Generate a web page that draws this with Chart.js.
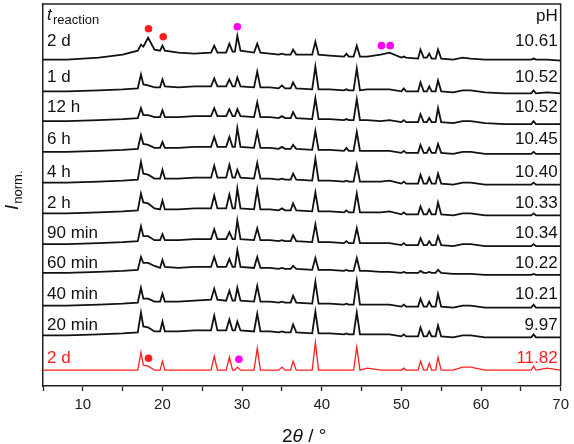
<!DOCTYPE html>
<html>
<head>
<meta charset="utf-8">
<script src="https://cdn.jsdelivr.net/npm/chart.js@4/dist/chart.umd.min.js"></script>
<style>
  html, body { margin: 0; padding: 0; background: #fff; }
</style>
</head>
<body>
<canvas id="xrdChart" width="574" height="444"></canvas>
<script>
// 2θ positions (°) where the patterns are sampled
const twoTheta = [
  5, 8, 12, 15, 16.9, 17.3, 17.6, 18.2, 19.0, 19.7, 20.0, 20.3, 22, 24,
  26.1, 26.5, 26.9, 28.0, 28.4, 28.8, 29.1, 29.4, 29.8, 31.5, 31.9, 32.3,
  33.5, 34.6, 35.0, 35.4, 36.1, 36.4, 36.8, 38.8, 39.2, 39.6, 41.0, 42.8, 43.1, 43.4, 44.0, 44.4, 44.8, 45.7,
  47.4, 48.5, 50.0, 50.3, 50.6, 52.1, 52.4, 52.8, 53.2, 53.5, 53.8, 54.3, 54.6, 55.0,
  56.5, 57.7, 58.7, 60.5, 63, 66.3, 66.6, 66.9, 68.3, 70
];

// Intensities (a.u.) above each trace's own baseline
const int2d = [
  0, 0, 2, 5, 9, 15, 13, 22, 10, 9, 14, 9, 7, 6,
  7, 14, 7, 7, 16, 8, 8, 24, 9, 7, 16, 7,
  6, 5, 6, 5, 5, 10, 5, 5, 18, 5, 4, 3, 6, 3, 3, 14, 3, 3,
  5, 7, 2, 3, 2, 1, 10, 2, 2, 6, 1, 1, 10, 1,
  0, 2, 1, 0, 0, 0, 1, 0, 0, -1
];
const int1d = [
  0, 0, 1, 2, 3, 17, 7, 6, 4, 4, 12, 5, 4, 5,
  5, 13, 5, 5, 12, 5, 5, 14, 5, 4, 20, 4,
  4, 3, 6, 3, 3, 9, 3, 2, 25, 2, 2, 1, 2, 1, 1, 23, 1, 2,
  2, 2, 0, 3, 0, 0, 9, 0, 0, 5, 0, 0, 11, 0,
  -1, 1, 1, -1, -2, -2, 1, -2, -1, -2
];
const int12h = [
  0, 0, 1, 2, 3, 13, 6, 6, 4, 4, 11, 4, 4, 5,
  5, 13, 5, 5, 12, 5, 5, 12, 5, 4, 19, 4,
  4, 3, 5, 3, 3, 9, 3, 2, 23, 2, 2, 1, 2, 1, 1, 22, 1, 1,
  0, 1, -1, 1, -1, -1, 7, -1, -1, 3, -1, -1, 13, -1,
  -2, 0, 0, -2, -3, -3, 0, -3, -3, -3
];
const int6h = [
  0, 0, 1, 2, 3, 17, 8, 7, 4, 4, 10, 4, 4, 5,
  5, 15, 5, 5, 15, 5, 5, 24, 5, 4, 20, 4,
  4, 3, 5, 3, 3, 7, 3, 2, 21, 2, 2, 1, 4, 1, 1, 20, 1, 1,
  1, 1, -1, 1, -1, -1, 7, -1, -1, 4, -1, -1, 8, -1,
  -2, 0, 0, -2, -2, -2, 0, -2, -2, -2
];
const int4h = [
  0, 0, 1, 2, 3, 21, 9, 8, 4, 4, 13, 4, 4, 5,
  5, 17, 5, 5, 18, 5, 5, 13, 5, 4, 20, 4,
  4, 3, 4, 3, 3, 9, 3, 2, 24, 2, 2, 1, 2, 1, 1, 18, 1, 1,
  1, 2, -1, 1, -1, -1, 8, -1, -1, 5, -1, -1, 9, -1,
  -2, 0, 0, -2, -2, -2, 0, -2, -2, -2
];
const int2h = [
  0, 0, 1, 2, 3, 20, 11, 10, 5, 4, 13, 4, 4, 5,
  5, 18, 5, 5, 19, 5, 5, 25, 5, 4, 24, 4,
  4, 3, 5, 3, 3, 10, 3, 2, 21, 2, 2, 1, 3, 1, 1, 20, 1, 1,
  1, 2, -1, 1, -1, -1, 7, -1, -1, 4, -1, -1, 11, -1,
  -2, 0, 0, -2, -2, -2, 0, -2, -2, -2
];
const int90min = [
  0, 0, 1, 2, 3, 18, 8, 8, 4, 4, 10, 4, 4, 5,
  5, 15, 5, 5, 12, 5, 5, 24, 5, 4, 16, 4,
  4, 3, 4, 3, 3, 9, 3, 2, 20, 2, 2, 1, 3, 1, 1, 16, 1, 1,
  1, 1, -1, 1, -1, -1, 6, -1, -1, 3, -1, -1, 8, -1,
  -2, 0, 0, -2, -2, -2, 0, -2, -2, -2
];
const int60min = [
  0, 0, 1, 2, 3, 16, 10, 10, 7, 5, 13, 6, 5, 6,
  6, 16, 6, 6, 14, 6, 6, 23, 6, 5, 16, 5,
  5, 4, 5, 4, 4, 7, 4, 3, 15, 3, 3, 2, 3, 2, 2, 15, 2, 2,
  1, 1, 0, 1, 0, 0, 2, 0, 0, 1, 0, 0, 3, 0,
  -1, -1, -1, -2, -2, -2, -1, -2, -2, -2
];
const int40min = [
  0, 0, 1, 2, 3, 18, 7, 7, 4, 4, 12, 4, 4, 5,
  6, 17, 6, 5, 15, 5, 5, 18, 5, 4, 20, 4,
  4, 3, 4, 3, 3, 10, 3, 2, 24, 2, 2, 1, 2, 1, 1, 25, 1, 1,
  1, 1, -1, 1, -1, -1, 7, -1, -1, 4, -1, -1, 12, -1,
  -2, 0, 0, -2, -2, -2, 1, -2, -2, -2
];
const int20min = [
  0, 0, 1, 2, 3, 23, 9, 8, 4, 4, 14, 4, 4, 5,
  5, 20, 5, 5, 16, 5, 5, 14, 5, 4, 22, 4,
  4, 3, 4, 3, 3, 11, 3, 2, 24, 2, 2, 1, 2, 1, 1, 23, 1, 1,
  1, 1, -1, 1, -1, -1, 8, -1, -1, 4, -1, -1, 10, -1,
  -2, 0, 0, -2, -2, -2, 1, -2, -2, -2
];
const intRef2d = [
  0, 0, 0, 0, 0, 18, 5, 4, 0, 0, 9, 0, 0, 0,
  0, 14, 0, 0, 13, 0, 0, 3, 0, 0, 22, 0,
  0, 0, 3, 0, 0, 9, 0, 0, 28, 0, 0, 0, 0, 0, 0, 23, 0, 2,
  0, 0, 0, 2, 0, 0, 9, 0, 0, 7, 0, 0, 13, 0,
  0, 3, 3, 0, 0, 0, 4, 0, 2, 0
];

// Trace labels, pH values and vertical offsets (top to bottom)
const traceLabels = ['2 d', '1 d', '12 h', '6 h', '4 h', '2 h', '90 min', '60 min', '40 min', '20 min', '2 d'];
const pHValues = ['10.61', '10.52', '10.52', '10.45', '10.40', '10.33', '10.34', '10.22', '10.21', '9.97', '11.82'];
const offsets = [329, 297, 267, 236, 205, 174, 143, 114, 81, 51, 16];
const intensities = [int2d, int1d, int12h, int6h, int4h, int2h, int90min, int60min, int40min, int20min, intRef2d];

// Phase markers (2θ, stacked intensity level)
const redMarkTheta = [18.25, 20.1, 18.25];
const redMarkLevel = [360, 352, 28];
const pinkMarkTheta = [29.4, 47.5, 48.6, 29.6];
const pinkMarkLevel = [362, 343, 343, 27];

const xTicks = [10, 20, 30, 40, 50, 60, 70];

const RED = '#ff1f1f';
const PINK = '#ff00ff';
const INK = '#111111';
const FONT = '"Liberation Sans", Arial, sans-serif';
// vertical centres of the label rows (px)
const labelRowY = [41, 77, 107, 139, 172, 203, 233, 263, 294, 325, 358];

const datasets = intensities.map((vals, i) => ({
    label: traceLabels[i],
    data: twoTheta.map((t, k) => ({ x: t, y: offsets[i] + vals[k] })),
    borderColor: i === intensities.length - 1 ? RED : INK,
    borderWidth: i === intensities.length - 1 ? 1.3 : 1.8,
    pointRadius: 0,
    tension: 0,
    fill: false
}));

datasets.push({
    type: 'scatter',
    data: redMarkTheta.map((t, k) => ({ x: t, y: redMarkLevel[k] })),
    pointRadius: 3.8,
    pointBackgroundColor: RED,
    pointBorderWidth: 0,
    showLine: false
});
datasets.push({
    type: 'scatter',
    data: pinkMarkTheta.map((t, k) => ({ x: t, y: pinkMarkLevel[k] })),
    pointRadius: 3.8,
    pointBackgroundColor: PINK,
    pointBorderWidth: 0,
    showLine: false
});

// Texts and the frame on top/right
const annotations = {
    id: 'annotations',
    afterDraw(chart) {
        const { ctx, chartArea: a } = chart;
        ctx.save();
        ctx.strokeStyle = '#222';
        ctx.lineWidth = 1.5;
        ctx.beginPath();
        ctx.moveTo(a.left, a.top);
        ctx.lineTo(a.right, a.top);
        ctx.lineTo(a.right, a.bottom);
        ctx.stroke();

        ctx.font = '17px ' + FONT;
        ctx.textBaseline = 'middle';
        traceLabels.forEach((t, i) => {
            ctx.fillStyle = i === traceLabels.length - 1 ? RED : INK;
            ctx.textAlign = 'left';
            ctx.fillText(t, a.left + 4, labelRowY[i]);
            ctx.textAlign = 'right';
            ctx.fillText(pHValues[i], a.right - 3, labelRowY[i]);
        });

        // header: t_reaction and pH
        ctx.fillStyle = INK;
        ctx.textBaseline = 'alphabetic';
        ctx.textAlign = 'left';
        ctx.font = 'italic 17px ' + FONT;
        ctx.fillText('t', a.left + 4, 20);
        ctx.font = '13px ' + FONT;
        ctx.fillText('reaction', a.left + 10, 24);
        ctx.textAlign = 'right';
        ctx.font = '17px ' + FONT;
        ctx.fillText('pH', a.right - 3, 21);

        // x title: 2θ / °
        ctx.textAlign = 'left';
        ctx.font = '19px ' + FONT;
        let x = 282;
        ctx.fillText('2', x, 442);
        x += ctx.measureText('2').width;
        ctx.font = 'italic 19px ' + FONT;
        ctx.fillText('θ', x, 442);
        x += ctx.measureText('θ').width;
        ctx.font = '19px ' + FONT;
        ctx.fillText(' / °', x, 442);

        // y title: I_norm.
        ctx.translate(18, 210);
        ctx.rotate(-Math.PI / 2);
        ctx.font = 'italic 19px ' + FONT;
        ctx.fillText('I', 0, 0);
        const w = ctx.measureText('I').width;
        ctx.font = '13px ' + FONT;
        ctx.fillText('norm.', w + 1, 4);
        ctx.restore();
    }
};

const ctx = document.getElementById('xrdChart').getContext('2d');
const chart = new Chart(ctx, {
    type: 'line',
    data: { datasets },
    options: {
        responsive: false,
        animation: false,
        devicePixelRatio: 1,
        layout: { padding: { top: 1, right: 9, left: 0, bottom: 0 } },
        plugins: { legend: { display: false }, tooltip: { enabled: false } },
        scales: {
            x: {
                type: 'linear',
                min: 5,
                max: 70,
                afterFit: scale => { scale.height = 58; },
                afterBuildTicks: scale => {
                    const all = [];
                    for (let k = 0; k <= 13; k++) all.push({ value: 5 + 5 * k });
                    scale.ticks = all;
                },
                ticks: {
                    autoSkip: false,
                    maxRotation: 0,
                    padding: 5,
                    color: '#222',
                    font: { size: 15, family: FONT },
                    callback: v => (xTicks.includes(v) ? String(v) : '')
                },
                grid: {
                    drawOnChartArea: false,
                    drawTicks: true,
                    tickLength: 5,
                    tickWidth: 1.3,
                    tickColor: '#222'
                },
                border: { display: true, color: '#222', width: 1.5 }
            },
            y: {
                type: 'linear',
                min: 0,
                max: 385,
                afterFit: scale => { scale.width = 43; },
                ticks: { display: false },
                grid: { display: false, drawTicks: false },
                border: { display: true, color: '#222', width: 1.5 }
            }
        }
    },
    plugins: [annotations]
});
</script>
</body>
</html>
